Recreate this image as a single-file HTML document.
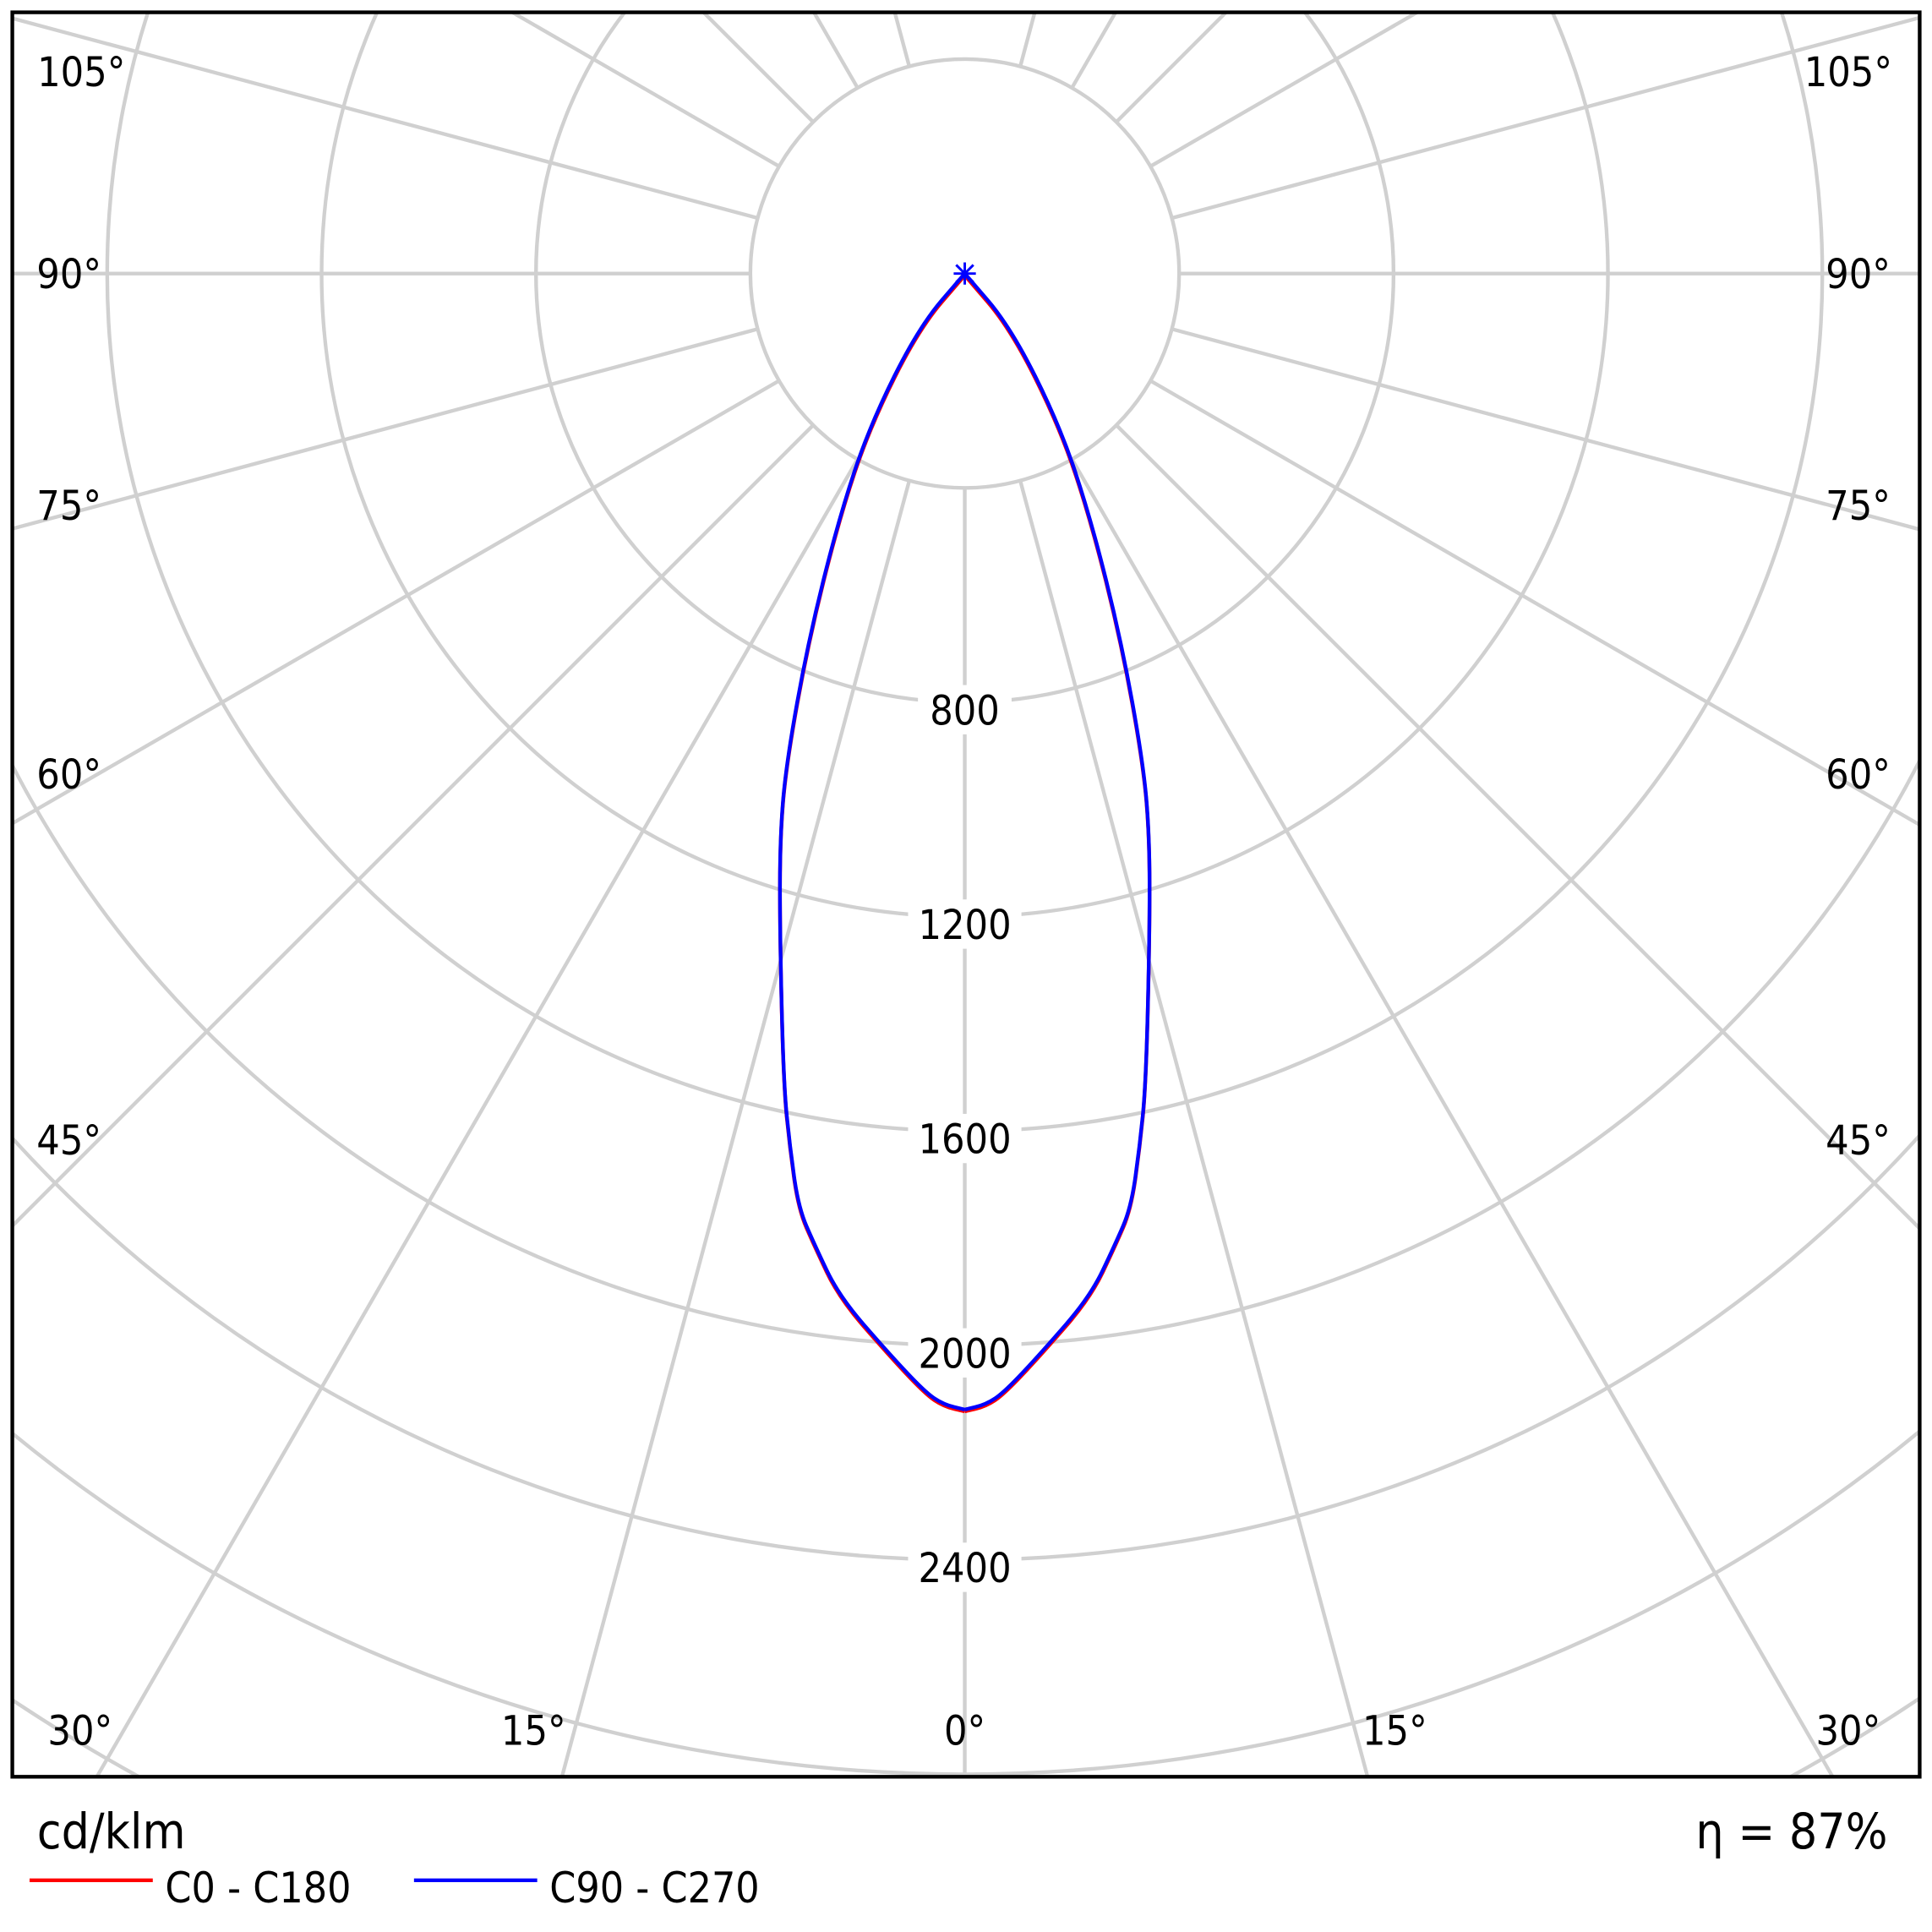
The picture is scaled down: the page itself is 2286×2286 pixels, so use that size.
<!DOCTYPE html>
<html><head><style>html,body{margin:0;padding:0;background:#fff;width:2286px;height:2286px;overflow:hidden}svg{display:block}</style></head><body>
<svg width="2286" height="2286" viewBox="0 0 1568 1568" xmlns="http://www.w3.org/2000/svg">
<defs><clipPath id="c"><rect x="10" y="10" width="1548" height="1432"/></clipPath>
<path id="hr" d="M783,222 L801.5,243.5 Q820,265 840,305 Q860,345 872.5,382.5 Q885,420 897.5,470 Q910,520 919,570 Q928,620 930.5,650 Q933,680 933,720 Q933,760 931.5,820 Q930,880 927.5,905 Q925,930 921.5,955 Q918,980 911.5,995 Q905,1010 895,1031 Q885,1052 865,1075 Q845,1098 830,1114 Q815,1130 807.5,1135 Q800,1140 791.5,1142 L783,1144"/>
</defs>
<g clip-path="url(#c)" stroke="#d0d0d0" stroke-width="3" fill="none">
<circle cx="783" cy="222" r="174"/><circle cx="783" cy="222" r="348"/><circle cx="783" cy="222" r="522"/><circle cx="783" cy="222" r="696"/><circle cx="783" cy="222" r="870"/><circle cx="783" cy="222" r="1044"/><circle cx="783" cy="222" r="1218"/><circle cx="783" cy="222" r="1392"/><circle cx="783" cy="222" r="1566"/>
<g>
<line x1="783" y1="396" x2="783" y2="2000"/>
<line x1="783" y1="396" x2="783" y2="2000" transform="rotate(15 783 222)"/>
<line x1="783" y1="396" x2="783" y2="2000" transform="rotate(30 783 222)"/>
<line x1="783" y1="396" x2="783" y2="2000" transform="rotate(45 783 222)"/>
<line x1="783" y1="396" x2="783" y2="2000" transform="rotate(60 783 222)"/>
<line x1="783" y1="396" x2="783" y2="2000" transform="rotate(75 783 222)"/>
<line x1="783" y1="396" x2="783" y2="2000" transform="rotate(90 783 222)"/>
<line x1="783" y1="396" x2="783" y2="2000" transform="rotate(105 783 222)"/>
<line x1="783" y1="396" x2="783" y2="2000" transform="rotate(120 783 222)"/>
<line x1="783" y1="396" x2="783" y2="2000" transform="rotate(135 783 222)"/>
<line x1="783" y1="396" x2="783" y2="2000" transform="rotate(150 783 222)"/>
<line x1="783" y1="396" x2="783" y2="2000" transform="rotate(165 783 222)"/>
<line x1="783" y1="396" x2="783" y2="2000" transform="rotate(-15 783 222)"/>
<line x1="783" y1="396" x2="783" y2="2000" transform="rotate(-30 783 222)"/>
<line x1="783" y1="396" x2="783" y2="2000" transform="rotate(-45 783 222)"/>
<line x1="783" y1="396" x2="783" y2="2000" transform="rotate(-60 783 222)"/>
<line x1="783" y1="396" x2="783" y2="2000" transform="rotate(-75 783 222)"/>
<line x1="783" y1="396" x2="783" y2="2000" transform="rotate(-90 783 222)"/>
<line x1="783" y1="396" x2="783" y2="2000" transform="rotate(-105 783 222)"/>
<line x1="783" y1="396" x2="783" y2="2000" transform="rotate(-120 783 222)"/>
<line x1="783" y1="396" x2="783" y2="2000" transform="rotate(-135 783 222)"/>
<line x1="783" y1="396" x2="783" y2="2000" transform="rotate(-150 783 222)"/>
<line x1="783" y1="396" x2="783" y2="2000" transform="rotate(-165 783 222)"/>
</g>
</g>
<g font-family="'DejaVu Sans Condensed','Liberation Sans',sans-serif" font-size="33" fill="#000" text-anchor="middle">
<g fill="#fff" stroke="none"><rect x="745" y="556" width="76" height="40"/><rect x="737" y="730" width="92" height="40"/><rect x="737" y="904" width="92" height="40"/><rect x="737" y="1078" width="92" height="40"/><rect x="737" y="1252" width="92" height="40"/></g>
<text x="783" y="588">800</text><text x="783" y="762">1200</text><text x="783" y="936">1600</text><text x="783" y="1110">2000</text><text x="783" y="1284">2400</text>
<text x="66" y="70">105°</text><text x="1500" y="70">105°</text>
<text x="56" y="234">90°</text><text x="1508" y="234">90°</text>
<text x="56" y="422">75°</text><text x="1508" y="422">75°</text>
<text x="56" y="640">60°</text><text x="1508" y="640">60°</text>
<text x="56" y="937">45°</text><text x="1508" y="937">45°</text>
<text x="65" y="1416">30°</text><text x="433" y="1416">15°</text><text x="783" y="1416">0°</text><text x="1132" y="1416">15°</text><text x="1500" y="1416">30°</text>
</g>
<g fill="none" stroke-width="3" stroke-linejoin="round">
<g stroke="#f00" transform="translate(0,1.5)"><use href="#hr"/><use href="#hr" transform="translate(1566,0) scale(-1,1)"/></g>
<g stroke="#00f"><use href="#hr"/><use href="#hr" transform="translate(1566,0) scale(-1,1)"/></g>
<path d="M776,215 L790,229 M790,215 L776,229 M783,213 L783,231 M774,222 L792,222" stroke="#00f" stroke-width="2"/>
</g>
<rect x="10" y="10" width="1548" height="1432" fill="none" stroke="#000" stroke-width="3"/>
<g font-family="'DejaVu Sans Condensed','Liberation Sans',sans-serif" fill="#000">
<text x="30" y="1500" font-size="40">cd/klm</text>
<text x="1532" y="1500" font-size="40" text-anchor="end">η = 87%</text>
<line x1="24" y1="1526" x2="124" y2="1526" stroke="#f00" stroke-width="3"/>
<text x="134" y="1544" font-size="34">C0 - C180</text>
<line x1="336" y1="1526" x2="436" y2="1526" stroke="#00f" stroke-width="3"/>
<text x="446" y="1544" font-size="34">C90 - C270</text>
</g>
</svg>
</body></html>
